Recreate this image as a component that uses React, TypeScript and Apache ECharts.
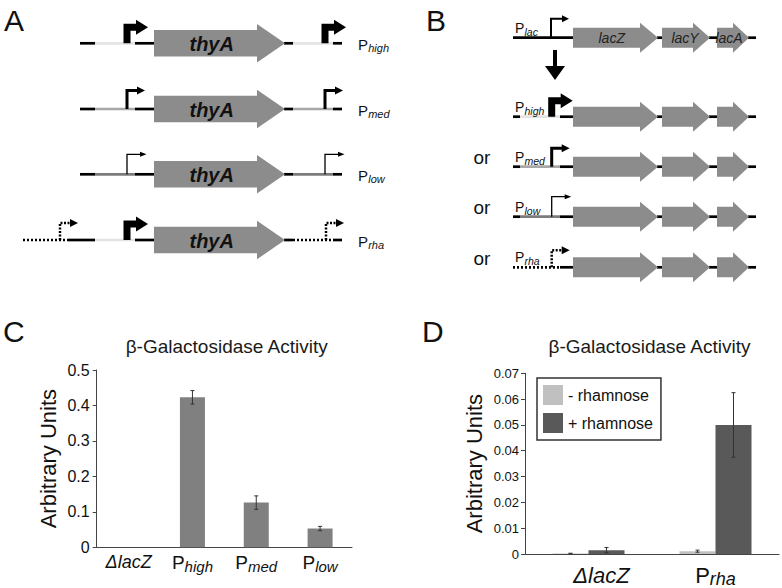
import React, { useEffect, useRef } from "react";
import * as echarts from "echarts";

const FONT = '"Liberation Sans", Arial, Helvetica, sans-serif';

// ---- Panel C data ----
const cCategories = ["ΔlacZ", "Phigh", "Pmed", "Plow"];
const cValues = [0, 0.423, 0.126, 0.053];
const cErrors = [0, 0.019, 0.019, 0.006];
const cAxisMax = 0.5;
const cAxisStep = 0.1;

// ---- Panel D data ----
const dCategories = ["ΔlacZ", "Prha"];
const dSeriesNames = ["- rhamnose", "+ rhamnose"];
const dMinus = [0.0002, 0.0011];
const dMinusErr = [0.0001, 0.0004];
const dPlus = [0.0015, 0.05];
const dPlusErr = [0.001, 0.0125];
const dAxisMax = 0.07;
const dAxisStep = 0.01;

const TITLE = "β-Galactosidase Activity";
const Y_NAME = "Arbitrary Units";

const GENE = "#8c8c8c";
const REGION: Record<string, string> = {
  high: "#e4e4e4",
  med: "#a8a8a8",
  low: "#7c7c7c",
};

function catFormatter(v: string) {
  if (v.startsWith("Δ")) return "{d|" + v + "}";
  return "{p|" + v.charAt(0) + "}{s|" + v.slice(1) + "}";
}

function errorSeries(axis: number, values: number[], errs: number[], offset: number) {
  const data: number[][] = [];
  values.forEach((v, i) => {
    if (errs[i] > 0) data.push([i, v - errs[i], v + errs[i]]);
  });
  return {
    type: "custom",
    xAxisIndex: axis,
    yAxisIndex: axis,
    silent: true,
    z: 10,
    encode: { x: 0, y: [1, 2] },
    data,
    renderItem: (_p: any, api: any) => {
      const lo = api.coord([api.value(0), api.value(1)]);
      const hi = api.coord([api.value(0), api.value(2)]);
      const x = lo[0] + offset;
      const cap = 2;
      const st = { stroke: "#333", lineWidth: 1 };
      return {
        type: "group",
        children: [
          { type: "line", shape: { x1: x, y1: lo[1], x2: x, y2: hi[1] }, style: st },
          { type: "line", shape: { x1: x - cap, y1: hi[1], x2: x + cap, y2: hi[1] }, style: st },
          { type: "line", shape: { x1: x - cap, y1: lo[1], x2: x + cap, y2: lo[1] }, style: st },
        ],
      };
    },
  };
}

// ---- diagram helpers (decorative drawing) ----
function seg(x1: number, x2: number, y: number, color: string, dashed = false, lw = 2.7) {
  return {
    type: "line",
    silent: true,
    shape: { x1, y1: y, x2, y2: y },
    style: { stroke: color, lineWidth: lw, lineDash: dashed ? [2, 2] : null },
  };
}

const PROMO: Record<string, any> = {
  high: { lw: 7, h: 16, arm: 10, head: 11, hh: 7.5, dash: null },
  med: { lw: 3, h: 18.5, arm: 11, head: 7, hh: 4, dash: null },
  low: { lw: 1.3, h: 20, arm: 14, head: 5.5, hh: 2.5, dash: null },
  lac: { lw: 2, h: 19, arm: 12, head: 6, hh: 3.5, dash: null },
  rha: { lw: 2.5, h: 17, arm: 11, head: 7, hh: 4, dash: [2, 1.5] },
};

function promoter(x: number, y: number, kind: string) {
  const c = PROMO[kind];
  return [
    {
      type: "polyline",
      silent: true,
      shape: { points: [[x, y], [x, y - c.h], [x + c.arm, y - c.h]] },
      style: { stroke: "#000", fill: null, lineWidth: c.lw, lineDash: c.dash, lineJoin: "miter" },
    },
    {
      type: "polygon",
      silent: true,
      shape: {
        points: [
          [x + c.arm - 1, y - c.h - c.hh],
          [x + c.arm + c.head, y - c.h],
          [x + c.arm - 1, y - c.h + c.hh],
        ],
      },
      style: { fill: "#000" },
    },
  ];
}

function gene(x0: number, xb: number, xe: number, y: number, bh: number, hh: number) {
  return {
    type: "polygon",
    silent: true,
    shape: {
      points: [
        [x0, y - bh],
        [xb, y - bh],
        [xb, y - hh],
        [xe, y],
        [xb, y + hh],
        [xb, y + bh],
        [x0, y + bh],
      ],
    },
    style: { fill: GENE },
  };
}

function txt(x: number, y: number, text: string, size: number, extra: any = {}) {
  return {
    type: "text",
    silent: true,
    x,
    y,
    style: {
      text,
      fontSize: size,
      fontFamily: FONT,
      fill: "#111",
      textAlign: "left",
      textVerticalAlign: "middle",
      ...extra,
    },
  };
}

function pLabel(x: number, y: number, sub: string, big = 14, small = 11) {
  return [txt(x, y, "P", big), txt(x + big * 0.68, y + 4, sub, small, { fontStyle: "italic" })];
}

function buildGraphic() {
  const els: any[] = [];
  // Panel letters
  els.push(txt(4, 20, "A", 30));
  els.push(txt(426, 20, "B", 30));
  els.push(txt(3, 331, "C", 30));
  els.push(txt(422, 331, "D", 30));

  // ---- Panel A ----
  const aRows = [43.3, 109, 174.3, 240];
  const aKinds = ["high", "med", "low", "rha"];
  aRows.forEach((y, i) => {
    const k = aKinds[i];
    const regionColor = k === "rha" ? REGION.high : REGION[k];
    if (k === "rha") {
      els.push(seg(23, 68, y, "#000", true));
      els.push(seg(68, 95, y, "#000"));
    } else {
      els.push(seg(80, 95, y, "#000"));
    }
    els.push(seg(95, 135, y, regionColor));
    els.push(seg(135, 155, y, "#000"));
    els.push(seg(284, 293, y, "#000"));
    if (k === "rha") els.push(seg(293, 333, y, "#000", true));
    else els.push(seg(293, 333, y, regionColor));
    els.push(seg(333, 342, y, "#000"));
    els.push(gene(154, 257, 285, y, 13.3, 19.3));
    els.push(txt(211.7, y + 1, "thyA", 20, { textAlign: "center", fontWeight: "bold", fontStyle: "italic" }));
    // promoters
    if (k === "rha") {
      els.push(...promoter(60, y, "rha"));
      els.push(...promoter(127, y, "high"));
      els.push(...promoter(326, y, "rha"));
    } else {
      els.push(...promoter(127, y, k));
      els.push(...promoter(325, y, k));
    }
    els.push(...pLabel(358, y + 1, k, 15, 11));
  });

  // ---- Panel B ----
  const bRows = [37.7, 116.7, 166.7, 216.7, 267.3];
  const bKinds = ["lac", "high", "med", "low", "rha"];
  bRows.forEach((y, i) => {
    const k = bKinds[i];
    if (k === "lac") {
      els.push(seg(513, 574, y, "#000"));
    } else if (k === "rha") {
      els.push(seg(513, 560, y, "#000", true));
      els.push(seg(560, 574, y, "#000"));
    } else {
      els.push(seg(513, 520, y, "#000"));
      els.push(seg(520, 560, y, REGION[k]));
      els.push(seg(560, 574, y, "#000"));
    }
    els.push(seg(657, 663, y, "#000"));
    els.push(seg(709, 718, y, "#000"));
    els.push(seg(748, 756, y, "#000"));
    els.push(gene(573, 640, 658, y, 10, 15));
    els.push(gene(662, 693, 710, y, 10, 15));
    els.push(gene(717, 733, 749, y, 10, 15));
    els.push(...promoter(k === "lac" ? 551 : 551.7, y, k));
    els.push(...pLabel(515, y - 10, k, 14, 10.5));
    if (k === "lac") {
      els.push(txt(611.7, y, "lacZ", 14, { textAlign: "center", fontStyle: "italic", fill: "#222" }));
      els.push(txt(685, y, "lacY", 14, { textAlign: "center", fontStyle: "italic", fill: "#222" }));
      els.push(txt(729, y, "lacA", 14, { textAlign: "center", fontStyle: "italic", fill: "#222" }));
    }
    if (i >= 2) els.push(txt(482, y - 9, "or", 19, { textAlign: "center" }));
  });
  // down arrow
  els.push({
    type: "line",
    silent: true,
    shape: { x1: 555, y1: 50, x2: 555, y2: 68 },
    style: { stroke: "#000", lineWidth: 4 },
  });
  els.push({
    type: "polygon",
    silent: true,
    shape: { points: [[545, 66], [565, 66], [555, 80]] },
    style: { fill: "#000" },
  });
  return els;
}

export default function App() {
  const ref = useRef<HTMLDivElement>(null);
  useEffect(() => {
    if (!ref.current) return;
    const chart = echarts.init(ref.current, undefined, { renderer: "svg" });
    const axisColor = "#444";
    const textColor = "#111";
    const richC = {
      p: { fontSize: 19, fontFamily: FONT, color: textColor, verticalAlign: "bottom", padding: [0, 0, 2, 0] },
      s: { fontSize: 15, fontFamily: FONT, color: textColor, fontStyle: "italic", verticalAlign: "bottom" },
      d: { fontSize: 18, fontFamily: FONT, color: textColor, fontStyle: "italic", verticalAlign: "bottom", padding: [0, 0, 2, 0] },
    };
    const richD = {
      p: { fontSize: 22, fontFamily: FONT, color: textColor, verticalAlign: "bottom", padding: [0, 0, 2, 0] },
      s: { fontSize: 18, fontFamily: FONT, color: textColor, fontStyle: "italic", verticalAlign: "bottom" },
      d: { fontSize: 22, fontFamily: FONT, color: textColor, fontStyle: "italic", verticalAlign: "bottom", padding: [0, 0, 2, 26] },
    };
    const titleStyle = { fontFamily: FONT, fontSize: 19, fontWeight: "normal", color: "#1a1a1a" };
    const option: any = {
      animation: false,
      backgroundColor: "#ffffff",
      title: [
        { text: TITLE, left: 226.7, top: 337, textAlign: "center", padding: 0, textStyle: titleStyle },
        { text: TITLE, left: 649.5, top: 337, textAlign: "center", padding: 0, textStyle: titleStyle },
      ],
      legend: {
        data: dSeriesNames,
        orient: "vertical",
        left: 537,
        top: 378,
        icon: "rect",
        itemWidth: 20,
        itemHeight: 20,
        itemGap: 8,
        padding: [7, 8, 7, 6],
        borderColor: "#333",
        borderWidth: 1.5,
        backgroundColor: "#fff",
        textStyle: { fontFamily: FONT, fontSize: 16, color: textColor },
      },
      grid: [
        { left: 96.7, width: 255.3, top: 370, height: 177.3 },
        { left: 525, width: 254, top: 373.3, height: 180.7 },
      ],
      xAxis: [
        {
          type: "category",
          gridIndex: 0,
          data: cCategories,
          axisLine: { lineStyle: { color: axisColor } },
          axisTick: { length: 4, lineStyle: { color: axisColor } },
          axisLabel: { interval: 0, margin: 6, formatter: catFormatter, rich: richC },
        },
        {
          type: "category",
          gridIndex: 1,
          data: dCategories,
          axisLine: { lineStyle: { color: axisColor } },
          axisTick: { length: 4, lineStyle: { color: axisColor } },
          axisLabel: { interval: 0, margin: 10, formatter: catFormatter, rich: richD },
        },
      ],
      yAxis: [
        {
          type: "value",
          gridIndex: 0,
          min: 0,
          max: cAxisMax,
          interval: cAxisStep,
          axisLine: { show: true, lineStyle: { color: axisColor } },
          axisTick: { show: true, length: 4, lineStyle: { color: axisColor } },
          splitLine: { show: false },
          axisLabel: { fontFamily: FONT, fontSize: 16, color: textColor, margin: 7 },
          name: Y_NAME,
          nameLocation: "middle",
          nameGap: 37,
          nameTextStyle: { fontFamily: FONT, fontSize: 22, color: textColor },
        },
        {
          type: "value",
          gridIndex: 1,
          min: 0,
          max: dAxisMax,
          interval: dAxisStep,
          axisLine: { show: true, lineStyle: { color: axisColor } },
          axisTick: { show: true, length: 4, lineStyle: { color: axisColor } },
          splitLine: { show: false },
          axisLabel: { fontFamily: FONT, fontSize: 13, color: textColor, margin: 6 },
          name: Y_NAME,
          nameLocation: "middle",
          nameGap: 40,
          nameTextStyle: { fontFamily: FONT, fontSize: 22, color: textColor },
        },
      ],
      series: [
        {
          type: "bar",
          xAxisIndex: 0,
          yAxisIndex: 0,
          data: cValues,
          barWidth: 25,
          itemStyle: { color: "#808080" },
        },
        errorSeries(0, cValues, cErrors, 0),
        {
          type: "bar",
          name: dSeriesNames[0],
          xAxisIndex: 1,
          yAxisIndex: 1,
          data: dMinus,
          barWidth: 36,
          barGap: "0%",
          itemStyle: { color: "#c0c0c0" },
        },
        {
          type: "bar",
          name: dSeriesNames[1],
          xAxisIndex: 1,
          yAxisIndex: 1,
          data: dPlus,
          barWidth: 36,
          barGap: "0%",
          itemStyle: { color: "#595959" },
        },
        errorSeries(1, dMinus, dMinusErr, -18),
        errorSeries(1, dPlus, dPlusErr, 18),
      ],
      graphic: { elements: buildGraphic() },
    };
    chart.setOption(option);
    return () => chart.dispose();
  }, []);
  return (
    <div
      ref={ref}
      style={{ position: "absolute", left: 0, top: 0, width: 782, height: 588, background: "#fff" }}
    />
  );
}
